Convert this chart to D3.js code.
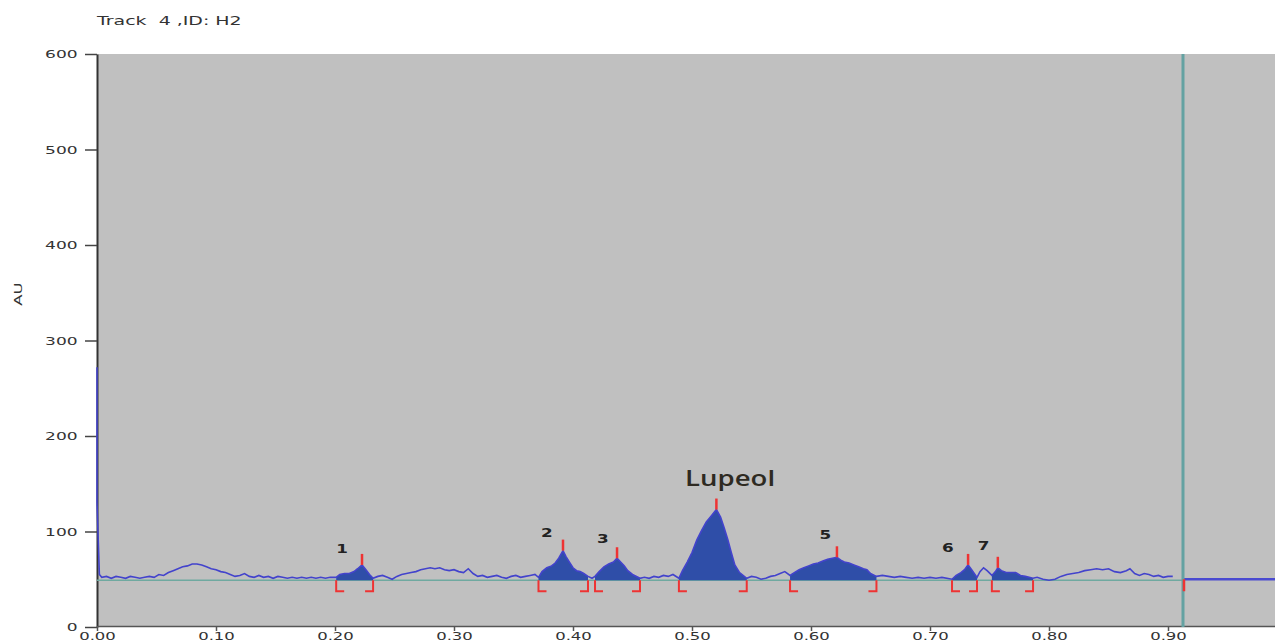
<!DOCTYPE html>
<html>
<head>
<meta charset="utf-8">
<script src="https://cdn.jsdelivr.net/npm/d3@7"></script>
<style>
	body { margin: 0; background: #fff; }
	svg { display: block; }
	text { font-family: "DejaVu Sans", sans-serif; }
</style>
</head>
<body>
<script>
// chart values
const title = 'Track  4 ,ID: H2';
const yLabel = 'AU';
const xTicks = [0, 0.1, 0.2, 0.3, 0.4, 0.5, 0.6, 0.7, 0.8, 0.9];
const yTicks = [0, 100, 200, 300, 400, 500, 600];
const baselineAU = 49;
const frontRf = 0.9126;
const tailAU = 50;

// densitogram trace [Rf, AU]
const trace = [
	[0, 272], [0, 130], [0.002, 55], [0.004, 52], [0.008, 53], [0.012, 51], [0.016, 53], [0.02, 52],
	[0.024, 51], [0.028, 53], [0.032, 52], [0.036, 51], [0.04, 52], [0.044, 53], [0.048, 52],
	[0.052, 55], [0.056, 54], [0.06, 57], [0.064, 59], [0.068, 61], [0.072, 63], [0.076, 64],
	[0.08, 66], [0.084, 66], [0.088, 65], [0.092, 63], [0.096, 61], [0.1, 60], [0.104, 58],
	[0.108, 57], [0.112, 55], [0.116, 53], [0.12, 54], [0.124, 56], [0.128, 53], [0.132, 52],
	[0.136, 54], [0.14, 52], [0.144, 53], [0.148, 51], [0.152, 53], [0.156, 52], [0.16, 51],
	[0.164, 52], [0.168, 51], [0.172, 52], [0.176, 51], [0.18, 52], [0.184, 51], [0.188, 52],
	[0.192, 51], [0.196, 52], [0.201, 52],
	[0.204, 55], [0.208, 56], [0.212, 56], [0.216, 58], [0.219, 61], [0.2227, 65], [0.226, 60],
	[0.229, 55], [0.232, 51],
	[0.236, 53], [0.24, 54], [0.244, 52], [0.248, 50], [0.252, 53], [0.256, 55], [0.26, 56],
	[0.264, 57], [0.268, 58], [0.272, 60], [0.276, 61], [0.28, 62], [0.284, 61], [0.288, 62],
	[0.292, 60], [0.296, 59], [0.3, 60], [0.304, 58], [0.308, 57], [0.312, 61], [0.316, 56],
	[0.32, 53], [0.324, 54], [0.328, 52], [0.332, 53], [0.336, 54], [0.34, 52], [0.344, 51],
	[0.348, 53], [0.352, 54], [0.356, 52], [0.36, 53], [0.364, 54], [0.368, 55], [0.371, 52],
	[0.374, 58], [0.378, 62], [0.382, 64], [0.385, 67], [0.388, 72], [0.3916, 80], [0.394, 74],
	[0.397, 68], [0.4, 62], [0.403, 59], [0.406, 58], [0.409, 56], [0.4126, 53],
	[0.416, 51], [0.4185, 53],
	[0.422, 58], [0.426, 63], [0.43, 66], [0.434, 68], [0.437, 72], [0.44, 68], [0.443, 64],
	[0.446, 59], [0.45, 55], [0.4563, 51],
	[0.46, 52], [0.464, 51], [0.468, 53], [0.472, 52], [0.476, 54], [0.48, 53], [0.484, 55],
	[0.489, 51],
	[0.492, 59], [0.496, 68], [0.5, 78], [0.504, 91], [0.508, 101], [0.512, 110], [0.516, 116],
	[0.5205, 123], [0.524, 115], [0.527, 104], [0.53, 92], [0.533, 78], [0.536, 65], [0.54, 57],
	[0.546, 51],
	[0.55, 53], [0.554, 52], [0.558, 50], [0.562, 51], [0.566, 53], [0.57, 54], [0.574, 56],
	[0.578, 58], [0.5824, 54],
	[0.586, 57], [0.59, 60], [0.594, 62], [0.598, 64], [0.602, 66], [0.606, 67], [0.61, 69],
	[0.614, 71], [0.618, 72], [0.6218, 73], [0.625, 70], [0.628, 68], [0.632, 67], [0.636, 65],
	[0.64, 63], [0.644, 61], [0.647, 60], [0.65, 56], [0.655, 53],
	[0.66, 54], [0.665, 53], [0.67, 52], [0.675, 53], [0.68, 52], [0.685, 51], [0.69, 52],
	[0.695, 51], [0.7, 52], [0.705, 51], [0.71, 52], [0.7185, 50],
	[0.722, 54], [0.726, 57], [0.729, 60], [0.732, 65], [0.735, 60], [0.7395, 52],
	[0.742, 58], [0.745, 62], [0.748, 59], [0.752, 54],
	[0.755, 58], [0.757, 62], [0.76, 59], [0.764, 57], [0.768, 57], [0.772, 57], [0.776, 54],
	[0.78, 53], [0.7866, 51],
	[0.79, 52], [0.795, 50], [0.8, 49], [0.805, 50], [0.81, 53], [0.815, 55], [0.82, 56],
	[0.825, 57], [0.83, 59], [0.835, 60], [0.84, 61], [0.845, 60], [0.85, 61], [0.855, 58],
	[0.86, 57], [0.865, 59], [0.868, 61], [0.872, 56], [0.876, 54], [0.88, 56], [0.884, 55],
	[0.888, 53], [0.892, 54], [0.896, 52], [0.9, 53], [0.904, 53]
];

// integrated peaks
const peakNames = ['1', '2', '3', 'Lupeol', '5', '6', '7'];
const peakStart = [0.201, 0.371, 0.4185, 0.489, 0.5824, 0.7185, 0.752];
const peakEnd   = [0.232, 0.4126, 0.4563, 0.546, 0.655, 0.7395, 0.7866];
const peakApex  = [0.2227, 0.3916, 0.437, 0.5205, 0.6218, 0.732, 0.757];
const labelRf   = [0.206, 0.378, 0.425, 0.532, 0.612, 0.715, 0.745];
const labelAU   = [81, 98, 91, 154, 96, 82, 84];

const width = 1275, height = 642;
const margin = { left: 97, top: 54, bottom: 627 };

let svg = d3.select('body').append('svg')
	.attr('width', width)
	.attr('height', height);

let x = d3.scaleLinear().domain([0, 1]).range([margin.left, margin.left + 1190]);
let y = d3.scaleLinear().domain([0, 600]).range([margin.bottom, margin.top]);

svg.append('defs').append('clipPath').attr('id', 'plot')
	.append('rect')
	.attr('x', margin.left - 2).attr('y', margin.top - 2)
	.attr('width', width - margin.left + 2).attr('height', margin.bottom - margin.top + 2);

svg.append('rect')
	.attr('x', margin.left).attr('y', margin.top)
	.attr('width', width - margin.left).attr('height', margin.bottom - margin.top)
	.attr('fill', '#c0c0c0');

// axes first, the trace sits on top of them
let yAxis = svg.append('g')
	.attr('transform', `translate(${margin.left},0)`)
	.call(d3.axisLeft(y).tickValues(yTicks).tickSize(12).tickSizeOuter(0).tickFormat(d3.format('d')));
yAxis.select('.domain').style('stroke', '#333').style('stroke-width', 2);
yAxis.selectAll('.tick line').style('stroke', '#444').style('stroke-width', 1.5);
yAxis.selectAll('.tick text')
	.attr('x', -12.5)
	.attr('transform', 'scale(1.55,1)')
	.style('font-size', '11px')
	.style('fill', '#333')
	.style('font-family', '"DejaVu Sans", sans-serif');

let xAxis = svg.append('g')
	.attr('transform', `translate(0,${margin.bottom - 1})`)
	.call(d3.axisBottom(x).tickValues(xTicks).tickSize(5).tickSizeOuter(0).tickFormat(d3.format('.2f')));
xAxis.select('.domain').style('stroke', '#555').style('stroke-width', 1.5);
xAxis.selectAll('.tick line').style('stroke', '#555').style('stroke-width', 1.5);
xAxis.selectAll('.tick text')
	.attr('y', 6)
	.attr('dy', '0.71em')
	.attr('x', 0)
	.attr('transform', 'scale(1.5,1)')
	.style('font-size', '11px')
	.style('fill', '#333')
	.style('font-family', '"DejaVu Sans", sans-serif');

let plot = svg.append('g').attr('clip-path', 'url(#plot)');

// baseline
plot.append('line')
	.attr('x1', x(0)).attr('x2', x(frontRf))
	.attr('y1', y(baselineAU)).attr('y2', y(baselineAU))
	.style('stroke', '#6fa9a0').style('stroke-width', 1.5);

// peak areas
let area = d3.area()
	.x(d => x(d[0]))
	.y0(y(baselineAU))
	.y1(d => y(d[1]));

peakNames.forEach((name, i) => {
	let pts = trace.filter(d => d[0] >= peakStart[i] && d[0] <= peakEnd[i]);
	plot.append('path')
		.datum(pts)
		.attr('d', area)
		.style('fill', '#2f4ea8');
});

let line = d3.line().x(d => x(d[0])).y(d => y(d[1]));

plot.append('path')
	.datum(trace)
	.attr('d', line)
	.style('fill', 'none')
	.style('stroke', '#4343cc')
	.style('stroke-width', 1.6);

// flat tail after the solvent front
plot.append('line')
	.attr('x1', x(frontRf)).attr('x2', x(1))
	.attr('y1', y(tailAU)).attr('y2', y(tailAU))
	.style('stroke', '#4a4ad0').style('stroke-width', 2.5);

// solvent front
plot.append('line')
	.attr('x1', x(frontRf)).attr('x2', x(frontRf))
	.attr('y1', margin.top).attr('y2', margin.bottom)
	.style('stroke', '#64a2a2').style('stroke-width', 3);

// markers
let red = '#ee3333';
let markers = plot.append('g')
	.style('stroke', red).style('stroke-width', 2).style('fill', 'none');

peakNames.forEach((name, i) => {
	let b = y(baselineAU);
	let xs = x(peakStart[i]), xe = x(peakEnd[i]), xa = x(peakApex[i]);
	let top = y(trace.find(d => d[0] === peakApex[i])[1]);
	markers.append('path').attr('d', `M${xs + 8},${b + 11}H${xs}V${b}`);
	markers.append('path').attr('d', `M${xe - 8},${b + 11}H${xe}V${b}`);
	markers.append('line')
		.attr('x1', xa).attr('x2', xa)
		.attr('y1', top).attr('y2', top - 11)
		.style('stroke-width', 2.5);
});
markers.append('line')
	.attr('x1', x(frontRf) + 1).attr('x2', x(frontRf) + 1)
	.attr('y1', y(tailAU)).attr('y2', y(tailAU) + 12)
	.style('stroke-width', 2.5);

// peak labels
peakNames.forEach((name, i) => {
	let t = svg.append('text')
		.text(name)
		.attr('text-anchor', 'middle')
		.attr('dominant-baseline', 'middle')
		.style('fill', '#222');
	if (name === 'Lupeol') {
		t.attr('x', x(labelRf[i])).attr('y', y(labelAU[i]))
			.style('font-family', '"Open Sans", sans-serif')
			.style('font-size', '21px')
			.style('font-weight', 600)
			.style('fill', '#2e2a22')
			.attr('textLength', 90)
			.attr('lengthAdjust', 'spacingAndGlyphs');
	} else {
		t.attr('transform', `translate(${x(labelRf[i])},${y(labelAU[i])}) scale(1.4,1)`)
			.style('font-size', '12px')
			.style('font-weight', 'bold');
	}
});

svg.append('text')
	.text(title)
	.attr('transform', 'translate(97,25) scale(1.65,1)')
	.style('white-space', 'pre')
	.style('font-size', '11.5px')
	.style('fill', '#333');

svg.append('text')
	.text(yLabel)
	.attr('transform', 'translate(22,294) rotate(-90) scale(1.5,1)')
	.attr('text-anchor', 'middle')
	.style('font-size', '11px')
	.style('fill', '#333');
</script>
</body>
</html>
